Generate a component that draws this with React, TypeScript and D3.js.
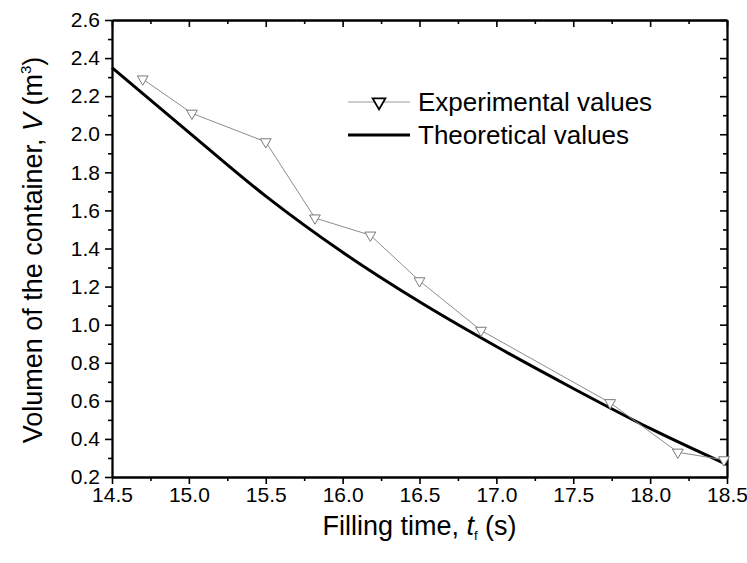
import React, { useEffect, useRef } from 'react'
import * as d3 from 'd3'

// experimental points
const expTime = [14.7, 15.02, 15.5, 15.82, 16.18, 16.5, 16.9, 17.74, 18.18, 18.48]
const expVolume = [2.29, 2.11, 1.96, 1.56, 1.47, 1.23, 0.97, 0.59, 0.33, 0.29]

// theoretical curve
const theoTime = [14.5, 15.0, 15.5, 16.0, 16.5, 17.0, 17.5, 18.0, 18.5]
const theoVolume = [2.35, 2.01, 1.675, 1.38, 1.12, 0.885, 0.665, 0.455, 0.265]

const xTickValues = [14.5, 15.0, 15.5, 16.0, 16.5, 17.0, 17.5, 18.0, 18.5]
const yTickValues = [0.2, 0.4, 0.6, 0.8, 1.0, 1.2, 1.4, 1.6, 1.8, 2.0, 2.2, 2.4, 2.6]

const legendLabels = ['Experimental values', 'Theoretical values']

const W = 747
const H = 563
const margin = { top: 20, right: 20, bottom: 86, left: 112 }
const plotW = W - margin.left - margin.right
const plotH = H - margin.top - margin.bottom
const font = '"Liberation Sans", Arial, sans-serif'

const x = d3.scaleLinear().domain([14.5, 18.5]).range([0, plotW])
const y = d3.scaleLinear().domain([0.2, 2.6]).range([plotH, 0])

const xMinor = d3.range(14.5, 18.51, 0.25).filter((_, i) => i % 2 === 1)
const yMinor = d3.range(0.2, 2.61, 0.1).filter((_, i) => i % 2 === 1)

const Axis = ({ make, transform, label }: any) => {
	const ref = useRef<SVGGElement>(null)
	useEffect(() => {
		if (!ref.current) return
		const g = d3.select(ref.current)
		g.call(make())
		g.selectAll('.tick line').attr('stroke', '#000').attr('stroke-width', 1.6)
		g.select('.domain').attr('stroke', '#000').attr('stroke-width', 1.8)
		g.selectAll('.tick text').attr('fill', '#000')
			.style('font-family', font).style('font-size', label ? '21px' : '0px')
	}, [])
	return <g ref={ref} transform={transform} />
}

const fmt = d3.format('.1f')

export default function App() {
	const line = d3.line<number>()
		.x((d, i) => x(theoTime[i]))
		.y(d => y(d))
		.curve(d3.curveMonotoneX)

	const expLine = d3.line<number>()
		.x((d, i) => x(expTime[i]))
		.y(d => y(d))

	const tri = d3.symbol().type(d3.symbolTriangle).size(50)()
	const legendTri = d3.symbol().type(d3.symbolTriangle).size(70)()

	return (
		<svg width={W} height={H} style={{ position: 'absolute', left: 0, top: 0, background: '#fff' }}>
			<g transform={`translate(${margin.left},${margin.top})`}>
				{/* bottom */}
				<Axis label transform={`translate(0,${plotH})`}
					make={() => d3.axisBottom(x).tickValues(xTickValues).tickSize(7).tickSizeOuter(0).tickPadding(3).tickFormat(fmt as any)} />
				<Axis transform={`translate(0,${plotH})`}
					make={() => d3.axisBottom(x).tickValues(xMinor).tickSize(4).tickSizeOuter(0).tickFormat(() => '')} />
				{/* top, ticks pointing down */}
				<Axis transform={`translate(0,0)`}
					make={() => d3.axisBottom(x).tickValues(xTickValues).tickSize(7).tickSizeOuter(0).tickFormat(() => '')} />
				<Axis transform={`translate(0,0)`}
					make={() => d3.axisBottom(x).tickValues(xMinor).tickSize(4).tickSizeOuter(0).tickFormat(() => '')} />
				{/* left */}
				<Axis label
					make={() => d3.axisLeft(y).tickValues(yTickValues).tickSize(7).tickSizeOuter(0).tickPadding(5).tickFormat(fmt as any)} />
				<Axis
					make={() => d3.axisLeft(y).tickValues(yMinor).tickSize(4).tickSizeOuter(0).tickFormat(() => '')} />
				{/* right, ticks pointing left */}
				<Axis transform={`translate(${plotW},0)`}
					make={() => d3.axisLeft(y).tickValues(yTickValues).tickSize(7).tickSizeOuter(0).tickFormat(() => '')} />
				<Axis transform={`translate(${plotW},0)`}
					make={() => d3.axisLeft(y).tickValues(yMinor).tickSize(4).tickSizeOuter(0).tickFormat(() => '')} />

				<path d={line(theoVolume) || ''} fill="none" stroke="#000" strokeWidth={3} />
				<path d={expLine(expVolume) || ''} fill="none" stroke="#8c8c8c" strokeWidth={1} />
				{expVolume.map((v, i) => (
					<path key={i} d={tri || ''} transform={`translate(${x(expTime[i])},${y(v)}) rotate(180)`}
						fill="#fff" stroke="#7a7a7a" strokeWidth={1} />
				))}
			</g>

			{/* legend */}
			<g fontFamily={font} fontSize={26}>
				<line x1={348} x2={410} y1={102} y2={102} stroke="#9a9a9a" strokeWidth={1} />
				<path d={legendTri || ''} transform={`translate(379,102) rotate(180)`} fill="#fff" stroke="#000" strokeWidth={1.8} />
				<text x={418} y={102} dy="0.35em">{legendLabels[0]}</text>
				<line x1={348} x2={410} y1={135} y2={135} stroke="#000" strokeWidth={3} />
				<text x={418} y={135} dy="0.35em">{legendLabels[1]}</text>
			</g>

			{/* axis titles */}
			<text x={margin.left + plotW / 2} y={535} textAnchor="middle" fontFamily={font} fontSize={27}>
				Filling time, <tspan fontStyle="italic">t</tspan><tspan fontSize={13} dy={5}>f</tspan><tspan dy={-5}> (s)</tspan>
			</text>
			<text transform={`translate(42,250) rotate(-90)`} textAnchor="middle" fontFamily={font} fontSize={27}>
				Volumen of the container, <tspan fontStyle="italic">V</tspan> (m<tspan fontSize={15} dy={-11}>3</tspan><tspan dy={11}>)</tspan>
			</text>
		</svg>
	)
}
